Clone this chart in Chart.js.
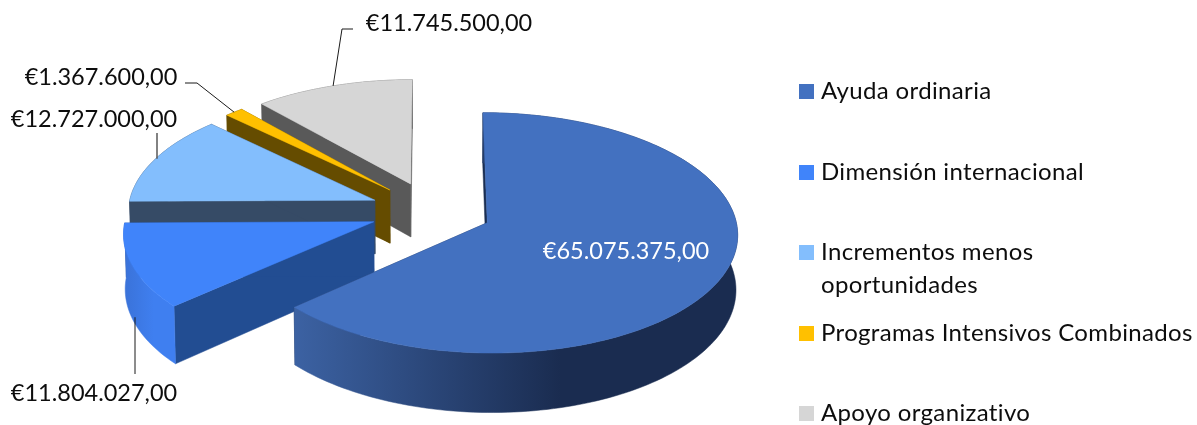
<!DOCTYPE html>
<html>
<head>
<meta charset="utf-8">
<style>
  html, body { margin: 0; padding: 0; background: #fff; }
  canvas { display: block; }
</style>
<script src="https://cdn.jsdelivr.net/npm/chart.js@4/dist/chart.umd.js"></script>
</head>
<body>
<canvas id="chartAyudas" width="1197" height="425"></canvas>
<script>
const categories = [
  'Ayuda ordinaria',
  'Dimensión internacional',
  ['Incrementos menos', 'oportunidades'],
  'Programas Intensivos Combinados',
  'Apoyo organizativo',
];
const amounts = [65075375, 11804027, 12727000, 1367600, 11745500];
const valueLabels = ['€65.075.375,00', '€11.804.027,00', '€12.727.000,00', '€1.367.600,00', '€11.745.500,00'];

const topColors = ['#4371c0', '#4084fa', '#83befd', '#ffc000', '#d6d6d6'];
const wallColors = ['#1b2e52', '#224d92', '#364b66', '#654c00', '#595959'];
const rimColors = [['#3c62a3', '#1a2c50'], ['#3a72d8', '#3f7ff0'], ['#364b66', '#364b66'], ['#654c00', '#654c00'], ['#595959', '#595959']];
const explode = [60, 62, 62, 62, 62];

// label boxes and leader elbows, one per slice
const labelSpots = [
  { x: 626, y: 251, color: '#fff' },
  { x: 94, y: 393, elbow: [[135, 374]] },
  { x: 94, y: 119, elbow: [[157, 133]] },
  { x: 101, y: 77, elbow: [[185, 83], [197, 83]] },
  { x: 449, y: 23, elbow: [[353, 29], [342, 29]] },
];

const fontName = 'Lato';
const labelSize = 23.5;
const legendSize = 24;
const legendTracking = '0.35px';
const depth = 54;
const tiltY = 0.475;
const perspective = 0.00034;
const sink = 0.0001;

// plane point (u, v from the pie centre) to screen, z going down
function project(chart, u, v, z) {
  const area = chart.chartArea;
  const cx = (area.left + area.right) / 2;
  const cy = (area.top + area.bottom) / 2;
  const w = 1 - perspective * v;
  return [cx + u / (w + sink * z), cy + (tiltY * v + z) / w];
}

function fillPoly(ctx, pts, fill) {
  ctx.beginPath();
  pts.forEach((p, i) => (i ? ctx.lineTo(p[0], p[1]) : ctx.moveTo(p[0], p[1])));
  ctx.closePath();
  ctx.fillStyle = fill;
  ctx.fill();
  ctx.strokeStyle = fill;
  ctx.lineWidth = 0.5;
  ctx.stroke();
}

function sliceGeometry(arc) {
  const half = (arc.startAngle + arc.endAngle) / 2;
  const off = arc.options.offset;
  return {
    half,
    ox: Math.cos(half) * off,
    oy: Math.sin(half) * off,
    r: arc.outerRadius,
  };
}

function drawSlice(chart, arc, i) {
  const ctx = chart.ctx;
  const { ox, oy, r } = sliceGeometry(arc);
  const top = [];
  const bottom = [];
  const steps = Math.ceil((arc.endAngle - arc.startAngle) * 40);
  for (let s = 0; s <= steps; s++) {
    const t = arc.startAngle + (arc.endAngle - arc.startAngle) * s / steps;
    const u = ox + Math.cos(t) * r;
    const v = oy + Math.sin(t) * r;
    top.push(project(chart, u, v, 0));
    bottom.push(project(chart, u, v, depth));
  }
  const apex = project(chart, ox, oy, 0);
  const apexLow = project(chart, ox, oy, depth);

  // radial walls
  fillPoly(ctx, [apex, top[0], bottom[0], apexLow], wallColors[i]);
  fillPoly(ctx, [apex, top[steps], bottom[steps], apexLow], wallColors[i]);

  // outer rim
  const xs = top.map((p) => p[0]);
  const grad = ctx.createLinearGradient(Math.min(...xs), 0, Math.max(...xs), 0);
  grad.addColorStop(0, rimColors[i][0]);
  grad.addColorStop(0.6, rimColors[i][1]);
  grad.addColorStop(1, rimColors[i][1]);
  fillPoly(ctx, top.concat(bottom.slice().reverse()), grad);

  // top face
  fillPoly(ctx, [apex].concat(top), arc.options.backgroundColor);
}

function drawLabels(chart, arcs) {
  const ctx = chart.ctx;
  ctx.font = labelSize + 'px ' + fontName;
  ctx.textAlign = 'center';
  ctx.textBaseline = 'middle';
  arcs.forEach((arc, i) => {
    const spot = labelSpots[i];
    ctx.fillStyle = spot.color || '#0d0d0d';
    ctx.fillText(valueLabels[i], spot.x, spot.y);
    if (!spot.elbow) return;
    const { half, ox, oy, r } = sliceGeometry(arc);
    const u = ox + Math.cos(half) * r;
    const v = oy + Math.sin(half) * r;
    const end = project(chart, u, v, v > 0 ? depth - 5 : 0);
    // single elbow means a plain vertical leader
    const endX = spot.elbow.length === 1 ? spot.elbow[0][0] : end[0];
    ctx.beginPath();
    spot.elbow.forEach((p, k) => (k ? ctx.lineTo(p[0], p[1]) : ctx.moveTo(p[0], p[1])));
    ctx.lineTo(endX, end[1]);
    ctx.strokeStyle = i === 2 ? '#595959' : '#1a1a1a';
    ctx.lineWidth = i === 2 ? 1.5 : 1;
    ctx.stroke();
  });
}

function drawLegend(chart) {
  const ctx = chart.ctx;
  ctx.save();
  ctx.font = legendSize + 'px ' + fontName;
  ctx.letterSpacing = legendTracking;
  ctx.textAlign = 'left';
  ctx.textBaseline = 'middle';
  categories.forEach((name, i) => {
    const y = 91.5 + 80.5 * i;
    ctx.fillStyle = topColors[i];
    ctx.fillRect(799, Math.round(y - 7.5), 15, 15);
    ctx.fillStyle = '#0d0d0d';
    [].concat(name).forEach((line, k) => ctx.fillText(line, 821, y + k * 32.3));
  });
  ctx.restore();
}

const pie3d = {
  id: 'pie3d',
  beforeDatasetsDraw(chart) {
    const arcs = chart.getDatasetMeta(0).data;
    // back to front
    [4, 3, 2, 1, 0].forEach((i) => drawSlice(chart, arcs[i], i));
    drawLabels(chart, arcs);
    drawLegend(chart);
    return false;
  },
};

new Chart(document.getElementById('chartAyudas'), {
  type: 'pie',
  data: {
    labels: categories,
    datasets: [{
      data: amounts,
      backgroundColor: topColors,
      borderWidth: 0,
      offset: explode,
    }],
  },
  options: {
    responsive: false,
    animation: false,
    rotation: 0,
    radius: 247,
    layout: { padding: { left: 0, right: 333, top: 0, bottom: 3 } },
    plugins: {
      legend: { display: false },
      tooltip: { enabled: false },
    },
  },
  plugins: [pie3d],
});
</script>
</body>
</html>
